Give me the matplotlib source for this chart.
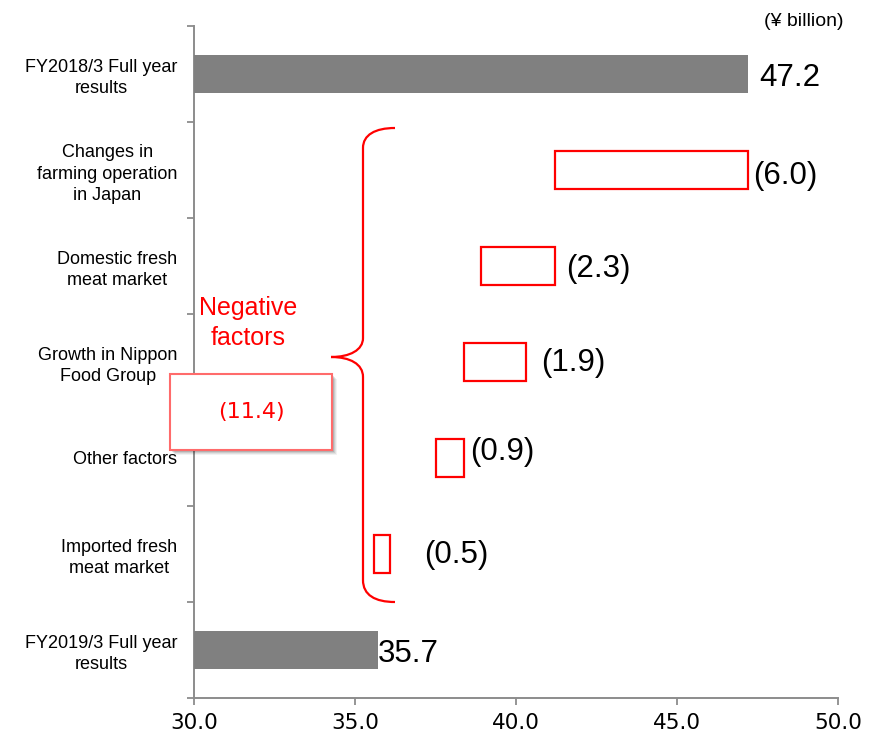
import numpy as np
import matplotlib
matplotlib.use("Agg")
import matplotlib.pyplot as plt
from matplotlib.patches import Rectangle, PathPatch
from matplotlib.path import Path

# ---- data (¥ billion) ----
categories = [
    "FY2018/3 Full year\nresults",
    "Changes in\nfarming operation\nin Japan",
    "Domestic fresh\nmeat market",
    "Growth in Nippon\nFood Group",
    "Other factors",
    "Imported fresh\nmeat market",
    "FY2019/3 Full year\nresults",
]
start_total = 47.2
end_total = 35.7
factor_values = [6.0, 2.3, 1.9, 0.9, 0.5]
factor_lefts = [41.2, 38.9, 38.4, 37.5, 35.6]
negative_total = 11.4
x_ticks = [30.0, 35.0, 40.0, 45.0, 50.0]

# label placement (points)
factor_label_dx = [4, 8, 11, 4, 24]
factor_label_dy = [-4, -2, -1, 4, -1]

W, H = 870, 739
fig = plt.figure(figsize=(W / 100, H / 100), dpi=100)
ax = fig.add_axes([194 / W, 1 - 698 / H, (838 - 194) / W, (698 - 26) / H])

label_font = "Liberation Sans"
axis_grey = "#8c8c8c"
bar_h = 0.4

n = len(categories)
ypos = np.arange(n)

# totals
ax.barh([0], [start_total - x_ticks[0]], left=x_ticks[0], height=bar_h,
        color="#808080", zorder=3)
ax.barh([n - 1], [end_total - x_ticks[0]], left=x_ticks[0], height=bar_h,
        color="#808080", zorder=3)

# negative factors (outlined)
fy = ypos[1:n - 1]
ax.barh(fy, factor_values, left=factor_lefts, height=bar_h,
        facecolor="white", edgecolor="#ff0000", linewidth=1.6, zorder=3)

ax.annotate(f"{start_total:.1f}", xy=(start_total, 0), xytext=(8, -3),
            textcoords="offset points", va="center", ha="left",
            fontsize=22.5, family=label_font)
ax.annotate(f"{end_total:.1f}", xy=(end_total, n - 1), xytext=(0, -3),
            textcoords="offset points", va="center", ha="left",
            fontsize=22.5, family=label_font)
for y, v, l, dx, dy in zip(fy, factor_values, factor_lefts,
                           factor_label_dx, factor_label_dy):
    ax.annotate(f"({v:.1f})", xy=(l + v, y), xytext=(dx, dy),
                textcoords="offset points", va="center", ha="left",
                fontsize=22.5, family=label_font)

# axes styling
ax.set_xlim(x_ticks[0], x_ticks[-1])
ax.set_ylim(n - 0.5, -0.5)
ax.set_xticks(x_ticks)
ax.set_xticklabels([f"{t:.1f}" for t in x_ticks], fontsize=15.5,
                   family="DejaVu Sans")
ax.set_yticks(np.arange(-0.5, n, 1.0))
ax.set_yticklabels([])
ax.set_yticks(ypos, categories, minor=True)
ax.tick_params(axis="y", which="minor", length=0, pad=12, labelsize=13)
for t in ax.get_yticklabels(minor=True):
    t.set_family(label_font)
    t.set_multialignment("center")
    t.set_linespacing(1.32)
ax.tick_params(axis="y", which="major", length=5, width=1.3, color=axis_grey)
ax.tick_params(axis="x", length=5, width=1.3, color=axis_grey, pad=6)
for s in ("top", "right"):
    ax.spines[s].set_visible(False)
for s in ("left", "bottom"):
    ax.spines[s].set_color(axis_grey)
    ax.spines[s].set_linewidth(1.4)


# curly brace grouping the negative factors (pixel geometry -> data)
def px_x(px):
    return x_ticks[0] + (px - 194) / (838 - 194) * (x_ticks[-1] - x_ticks[0])


def px_y(py):
    return -0.5 + (py - 26) / (698 - 26) * n


brace_px = [
    (395, 128), (375, 128), (363, 135), (363, 148),
    (363, 338),
    (363, 350), (350, 357), (331, 357),
    (350, 357), (363, 364), (363, 377),
    (363, 580),
    (363, 595), (375, 602), (395, 602),
]
codes = [Path.MOVETO, Path.CURVE4, Path.CURVE4, Path.CURVE4,
         Path.LINETO,
         Path.CURVE4, Path.CURVE4, Path.CURVE4,
         Path.CURVE4, Path.CURVE4, Path.CURVE4,
         Path.LINETO,
         Path.CURVE4, Path.CURVE4, Path.CURVE4]
verts = [(px_x(a), px_y(b)) for a, b in brace_px]
ax.add_patch(PathPatch(Path(verts, codes), facecolor="none",
                       edgecolor="#ff0000", linewidth=1.6, zorder=4,
                       clip_on=False))

fig.text(248 / W, 1 - 323 / H, "Negative\nfactors", color="#ff0000",
         fontsize=18, family=label_font, ha="center", va="center",
         multialignment="center", linespacing=1.3)

# total of negative factors in a shadowed box
bx0, by0, bw, bh = 170 / W, 1 - 450 / H, 162 / W, 76 / H
for i, a in enumerate([0.05, 0.07, 0.09, 0.12]):
    off = (5 - i) / W, (5 - i) / H
    fig.add_artist(Rectangle((bx0 + off[0], by0 - off[1]), bw, bh,
                             transform=fig.transFigure, facecolor="#000000",
                             edgecolor="none", alpha=a, zorder=5))
fig.add_artist(Rectangle((bx0, by0), bw, bh, transform=fig.transFigure,
                         facecolor="white", edgecolor="#ff6b6b",
                         linewidth=1.5, zorder=6))
fig.text(bx0 + bw / 2, by0 + bh / 2, f"({negative_total:.1f})",
         color="#ff0000", fontsize=16, family="DejaVu Sans",
         ha="center", va="center", zorder=7)

fig.text(804 / W, 1 - 22 / H, "(¥ billion)", fontsize=14, family=label_font,
         ha="center", va="center")

fig.savefig("out.png", dpi=100, facecolor="white")
